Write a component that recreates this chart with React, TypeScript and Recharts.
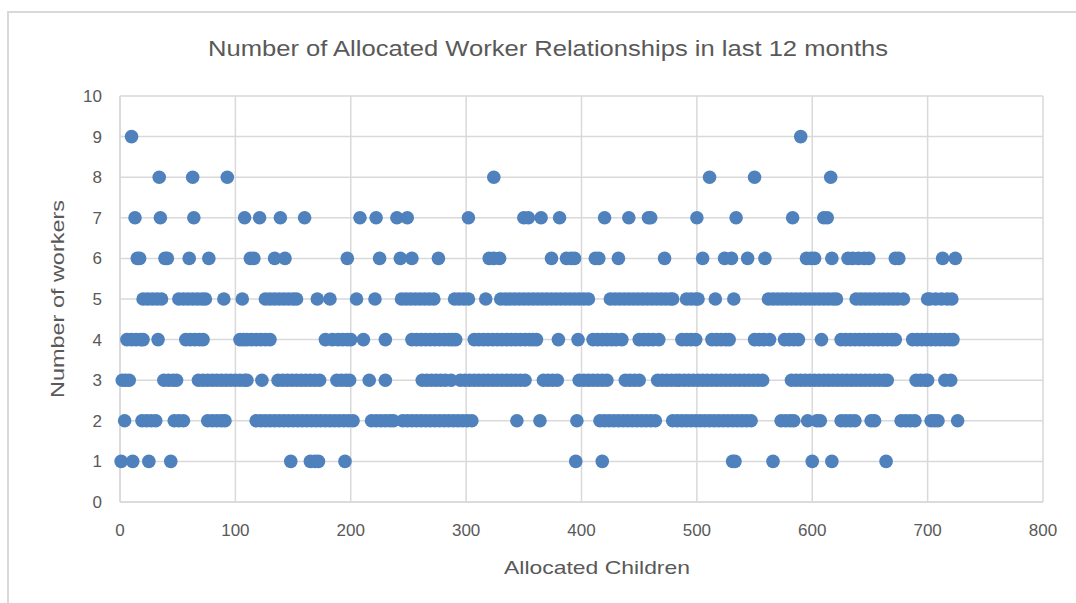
import React from "react";
import { ScatterChart, Scatter, XAxis, YAxis, CartesianGrid } from "recharts";

const xTicks = [0, 100, 200, 300, 400, 500, 600, 700, 800];
const yTicks = [0, 1, 2, 3, 4, 5, 6, 7, 8, 9, 10];

const row1 = [1, 11, 25, 44, 148, 165, 169, 172, 195, 395, 418, 531, 533, 566, 600, 617, 664];
const row2 = [4, 19, 23, 27, 31, 47, 51, 55, 76, 80, 84, 88, 91, 118, 122, 126, 130, 134, 138, 142, 146, 150, 154, 158, 162, 166, 170, 174, 178, 182, 186, 190, 194, 198, 202, 218, 222, 226, 230, 234, 237, 245, 249, 253, 257, 261, 265, 269, 273, 277, 281, 285, 289, 293, 297, 301, 305, 344, 364, 396, 416, 420, 424, 428, 432, 436, 440, 444, 448, 452, 456, 460, 464, 479, 483, 487, 491, 495, 499, 503, 507, 511, 515, 519, 523, 527, 531, 535, 539, 543, 547, 573, 577, 581, 584, 596, 604, 607, 625, 629, 633, 637, 651, 654, 677, 681, 685, 689, 703, 706, 709, 726];
const row3 = [2, 5, 8, 38, 42, 46, 49, 68, 72, 76, 80, 84, 88, 92, 96, 100, 104, 108, 110, 123, 137, 141, 145, 149, 153, 157, 161, 165, 169, 173, 188, 192, 196, 199, 216, 230, 262, 266, 270, 274, 278, 282, 287, 295, 299, 303, 307, 311, 315, 319, 323, 327, 331, 335, 339, 343, 347, 351, 367, 371, 375, 379, 398, 402, 406, 410, 414, 418, 422, 438, 442, 446, 450, 466, 470, 474, 478, 482, 485, 489, 493, 497, 501, 505, 509, 513, 517, 521, 525, 529, 533, 537, 541, 545, 549, 553, 557, 582, 586, 590, 594, 598, 602, 606, 610, 614, 618, 622, 626, 630, 634, 638, 642, 646, 650, 654, 658, 662, 665, 690, 694, 698, 700, 715, 720];
const row4 = [6, 10, 14, 18, 20, 33, 57, 61, 65, 69, 72, 104, 107, 110, 114, 118, 122, 126, 130, 178, 184, 189, 193, 197, 200, 211, 230, 253, 257, 261, 265, 269, 273, 277, 281, 285, 288, 291, 307, 311, 315, 319, 323, 327, 331, 335, 339, 343, 347, 351, 355, 358, 361, 380, 397, 410, 414, 418, 422, 426, 430, 435, 450, 454, 458, 462, 467, 487, 491, 495, 499, 513, 517, 521, 525, 528, 550, 554, 558, 563, 576, 580, 584, 588, 608, 625, 629, 633, 637, 641, 645, 649, 653, 657, 661, 665, 669, 672, 687, 691, 695, 699, 703, 707, 711, 715, 719, 722];
const row5 = [20, 24, 28, 32, 36, 51, 55, 59, 63, 67, 71, 74, 90, 106, 126, 130, 134, 138, 142, 146, 150, 153, 171, 182, 205, 221, 244, 248, 252, 256, 260, 264, 268, 272, 290, 294, 298, 302, 317, 330, 334, 338, 342, 346, 350, 354, 358, 362, 366, 370, 374, 378, 382, 386, 390, 394, 398, 402, 406, 425, 429, 433, 437, 441, 445, 449, 453, 457, 461, 465, 469, 473, 477, 479, 491, 495, 499, 501, 516, 532, 562, 566, 570, 574, 578, 582, 586, 590, 594, 598, 602, 606, 610, 614, 618, 621, 638, 642, 646, 650, 654, 658, 662, 666, 670, 674, 679, 700, 702, 707, 712, 717, 721];
const row6 = [15, 17, 39, 41, 60, 77, 113, 116, 134, 143, 197, 225, 243, 253, 276, 320, 324, 329, 374, 387, 391, 394, 412, 415, 432, 472, 505, 524, 530, 544, 559, 595, 599, 602, 617, 631, 635, 640, 645, 649, 672, 675, 713, 724];
const row7 = [13, 35, 64, 108, 121, 139, 160, 208, 222, 240, 249, 302, 350, 354, 365, 381, 420, 441, 458, 460, 500, 534, 583, 610, 613];
const row8 = [34, 63, 93, 324, 511, 550, 616];
const row9 = [10, 590];

const rows: [number, number[]][] = [
  [1, row1], [2, row2], [3, row3], [4, row4], [5, row5],
  [6, row6], [7, row7], [8, row8], [9, row9],
];

const data = rows.flatMap(([y, xs]) => xs.map((x) => ({ x, y })));

const TEXT = "#595959";
const GRID = "#d9d9d9";
const DOT = "#4F81BD";
const FONT = "'Liberation Sans', Arial, sans-serif";

const Dot = (props: any) => {
  const { cx, cy } = props;
  if (cx == null || cy == null) return null;
  return <circle cx={cx} cy={cy} r={6.8} fill={DOT} />;
};

export default function App() {
  return (
    <div style={{ position: "absolute", left: 0, top: 0, width: 1076, height: 603, background: "#fff", overflow: "hidden", fontFamily: FONT }}>
      <div style={{ position: "absolute", left: 7, top: 11, width: 1100, height: 620, border: `2px solid ${GRID}`, boxSizing: "border-box" }} />
      <div style={{ position: "absolute", left: 0, top: 0 }}>
        <ScatterChart width={1076} height={603} margin={{ top: 96, right: 33, bottom: 0, left: 0 }}>
          <CartesianGrid stroke={GRID} strokeWidth={1.5} />
          <XAxis
            type="number"
            dataKey="x"
            domain={[0, 800]}
            ticks={xTicks}
            interval={0}
            height={101}
            tickLine={false}
            axisLine={{ stroke: GRID, strokeWidth: 1.5 }}
            tickMargin={16}
            tick={{ fill: TEXT, fontSize: 17, fontFamily: FONT }}
          />
          <YAxis
            type="number"
            dataKey="y"
            domain={[0, 10]}
            ticks={yTicks}
            interval={0}
            width={120}
            tickLine={false}
            axisLine={{ stroke: GRID, strokeWidth: 1.5 }}
            tickMargin={12}
            tick={{ fill: TEXT, fontSize: 17, fontFamily: FONT }}
          />
          <Scatter data={data} fill={DOT} shape={Dot} isAnimationActive={false} />
        </ScatterChart>
      </div>
      <svg width={1076} height={603} style={{ position: "absolute", left: 0, top: 0, pointerEvents: "none" }}>
        <text x={548} y={56} textAnchor="middle" fill={TEXT} fontSize={22} fontFamily={FONT} textLength={680} lengthAdjust="spacingAndGlyphs">
          Number of Allocated Worker Relationships in last 12 months
        </text>
        <text x={597} y={574} textAnchor="middle" fill={TEXT} fontSize={19} fontFamily={FONT} textLength={186} lengthAdjust="spacingAndGlyphs">
          Allocated Children
        </text>
        <text x={64} y={299} textAnchor="middle" fill={TEXT} fontSize={19} fontFamily={FONT} transform="rotate(-90 64 299)" textLength={198} lengthAdjust="spacingAndGlyphs">
          Number of workers
        </text>
      </svg>
    </div>
  );
}
